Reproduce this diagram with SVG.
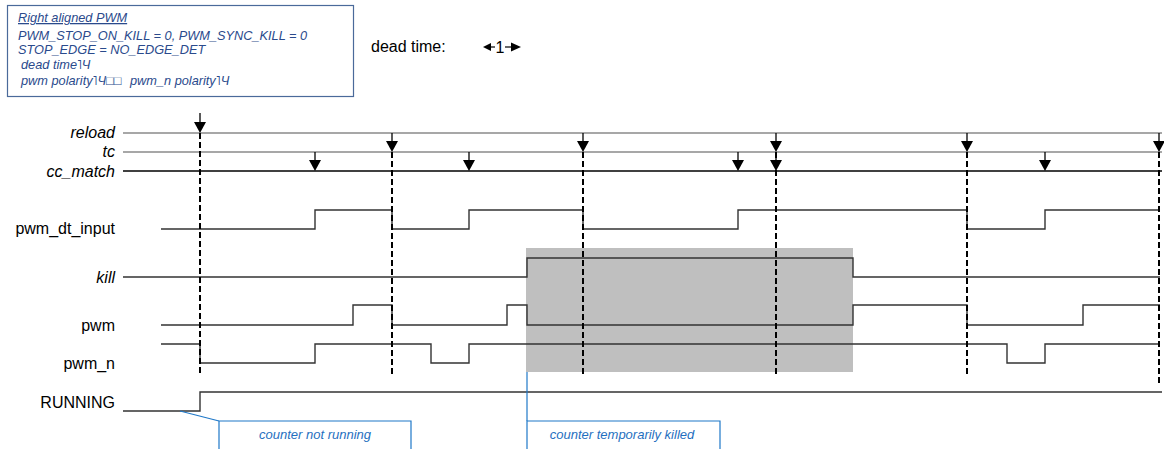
<svg xmlns="http://www.w3.org/2000/svg" width="1164" height="449" viewBox="0 0 1164 449">
<style>
.lbl{font-family:"Liberation Sans",Arial,sans-serif;font-size:16px;fill:#000;text-anchor:end}
.it{font-style:italic}
.info{font-family:"Liberation Sans",Arial,sans-serif;font-size:12.75px;font-style:italic;fill:#2a4a8c}
.note{font-family:"Liberation Sans",Arial,sans-serif;font-size:13px;font-style:italic;fill:#1f6fc0;text-anchor:middle}
.wave{fill:none;stroke:#333;stroke-width:1.4}
.axis{fill:none;stroke:#8a8a8a;stroke-width:1.6}
.axisb{fill:none;stroke:#000;stroke-width:1.3}
.dash{fill:none;stroke:#000;stroke-width:2;stroke-dasharray:6 3}
.evt{fill:none;stroke:#000;stroke-width:1.3}
.call{fill:none;stroke:#1f78c8;stroke-width:1.2}
</style>
<defs>
<path id="ah" d="M-6,-11 L6,-11 L0,0 Z" fill="#000"/>
</defs>
<rect width="1164" height="449" fill="#fff"/>

<g id="info-box">
<rect x="7.5" y="5.5" width="346" height="91" fill="#fff" stroke="#4a6a9a" stroke-width="1.2"/>
<text class="info" x="18" y="22" text-decoration="underline">Right aligned PWM</text>
<text class="info" x="18" y="39.5">PWM_STOP_ON_KILL = 0, PWM_SYNC_KILL = 0</text>
<text class="info" x="18" y="54">STOP_EDGE = NO_EDGE_DET</text>
<text class="info" x="21" y="69">dead time˥Ч</text>
<text class="info" x="21" y="84.5">pwm polarity˥Ч□□</text>
<text class="info" x="130" y="84.5">pwm_n polarity˥Ч</text>
</g>

<g id="dead-time">
<text class="lbl" style="text-anchor:start" x="371" y="52">dead time:</text>
<path d="M483,47 L491,43 L491,51 Z" fill="#000"/>
<line x1="490" y1="47" x2="495" y2="47" stroke="#000" stroke-width="1.2"/>
<text x="500" y="53" style="font-family:'Liberation Sans',Arial,sans-serif;font-size:16px;text-anchor:middle">1</text>
<line x1="505" y1="47" x2="512" y2="47" stroke="#000" stroke-width="1.2"/>
<path d="M521,47 L511,42.5 L511,51.5 Z" fill="#000"/>
</g>

<g id="kill-region">
<rect x="526" y="248" width="327" height="124" fill="#bfbfbf"/>
</g>

<g id="signal-reload">
<text class="lbl it" x="115" y="138">reload</text>
<line class="axis" x1="123" y1="133" x2="1162" y2="133"/>
</g>
<g id="signal-tc">
<text class="lbl it" x="115" y="157">tc</text>
<line class="axis" x1="123" y1="152" x2="1162" y2="152"/>
</g>
<g id="signal-cc_match">
<text class="lbl it" x="115" y="177">cc_match</text>
<line class="axisb" x1="123" y1="171" x2="1162" y2="171"/>
</g>

<g id="signal-pwm_dt_input">
<text class="lbl" x="115" y="234">pwm_dt_input</text>
<polyline class="wave" points="161,229 315,229 315,210 392,210 392,229 469,229 469,210 583,210 583,229 738,229 738,210 967,210 967,229 1045,229 1045,210 1160,210"/>
</g>
<g id="signal-kill">
<text class="lbl it" x="115" y="283">kill</text>
<polyline class="wave" points="123,277 527,277 527,258 853,258 853,277 1160,277"/>
</g>
<g id="signal-pwm">
<text class="lbl" x="115" y="331">pwm</text>
<polyline class="wave" points="161,325 353,325 353,305 392,305 392,325 507,325 507,305 527,305 527,325 853,325 853,305 967,305 967,325 1083,325 1083,305 1160,305"/>
</g>
<g id="signal-pwm_n">
<text class="lbl" x="115" y="369">pwm_n</text>
<polyline class="wave" points="161,344 200,344 200,363 315,363 315,344 431,344 431,363 469,363 469,344 1007,344 1007,363 1045,363 1045,344 1160,344"/>
</g>
<g id="signal-RUNNING">
<text class="lbl" x="115" y="408">RUNNING</text>
<polyline class="wave" points="123,411 200,411 200,392 1162,392"/>
</g>

<g id="connectors">
<g id="dashed-markers">
<line class="dash" x1="200" y1="133" x2="200" y2="374"/>
<line class="dash" x1="392" y1="152" x2="392" y2="374"/>
<line class="dash" x1="583" y1="152" x2="583" y2="374"/>
<line class="dash" x1="776" y1="152" x2="776" y2="374"/>
<line class="dash" x1="967" y1="152" x2="967" y2="374"/>
<line class="dash" x1="1159" y1="152" x2="1159" y2="384"/>
</g>
<g id="reload-events">
<line class="evt" x1="200" y1="113" x2="200" y2="123"/>
<use href="#ah" x="200" y="133"/>
</g>
<g id="tc-events">
<line class="evt" x1="392" y1="133" x2="392" y2="142"/><use href="#ah" x="392" y="152"/>
<line class="evt" x1="583" y1="133" x2="583" y2="142"/><use href="#ah" x="583" y="152"/>
<line class="evt" x1="776" y1="133" x2="776" y2="142"/><use href="#ah" x="776" y="152"/>
<line class="evt" x1="967" y1="133" x2="967" y2="142"/><use href="#ah" x="967" y="152"/>
<line class="evt" x1="1159" y1="133" x2="1159" y2="142"/><use href="#ah" x="1159" y="152"/>
</g>
<g id="cc-events">
<line class="evt" x1="315" y1="152" x2="315" y2="161"/><use href="#ah" x="315" y="171"/>
<line class="evt" x1="469" y1="152" x2="469" y2="161"/><use href="#ah" x="469" y="171"/>
<line class="evt" x1="738" y1="152" x2="738" y2="161"/><use href="#ah" x="738" y="171"/>
<line class="evt" x1="776" y1="152" x2="776" y2="161"/><use href="#ah" x="776" y="171"/>
<line class="evt" x1="1045" y1="152" x2="1045" y2="161"/><use href="#ah" x="1045" y="171"/>
</g>
<g id="callout-lines">
<line class="call" x1="180" y1="411" x2="219" y2="421"/>
<line class="call" x1="527" y1="372" x2="527" y2="421"/>
</g>
</g>

<g id="note-not-running">
<path class="call" d="M219,452 L219,421 L411,421 L411,452"/>
<text class="note" x="315" y="439">counter not running</text>
</g>
<g id="note-killed">
<path class="call" d="M527,452 L527,421 L720,421 L720,452"/>
<text class="note" x="622" y="439">counter temporarily killed</text>
</g>
</svg>
